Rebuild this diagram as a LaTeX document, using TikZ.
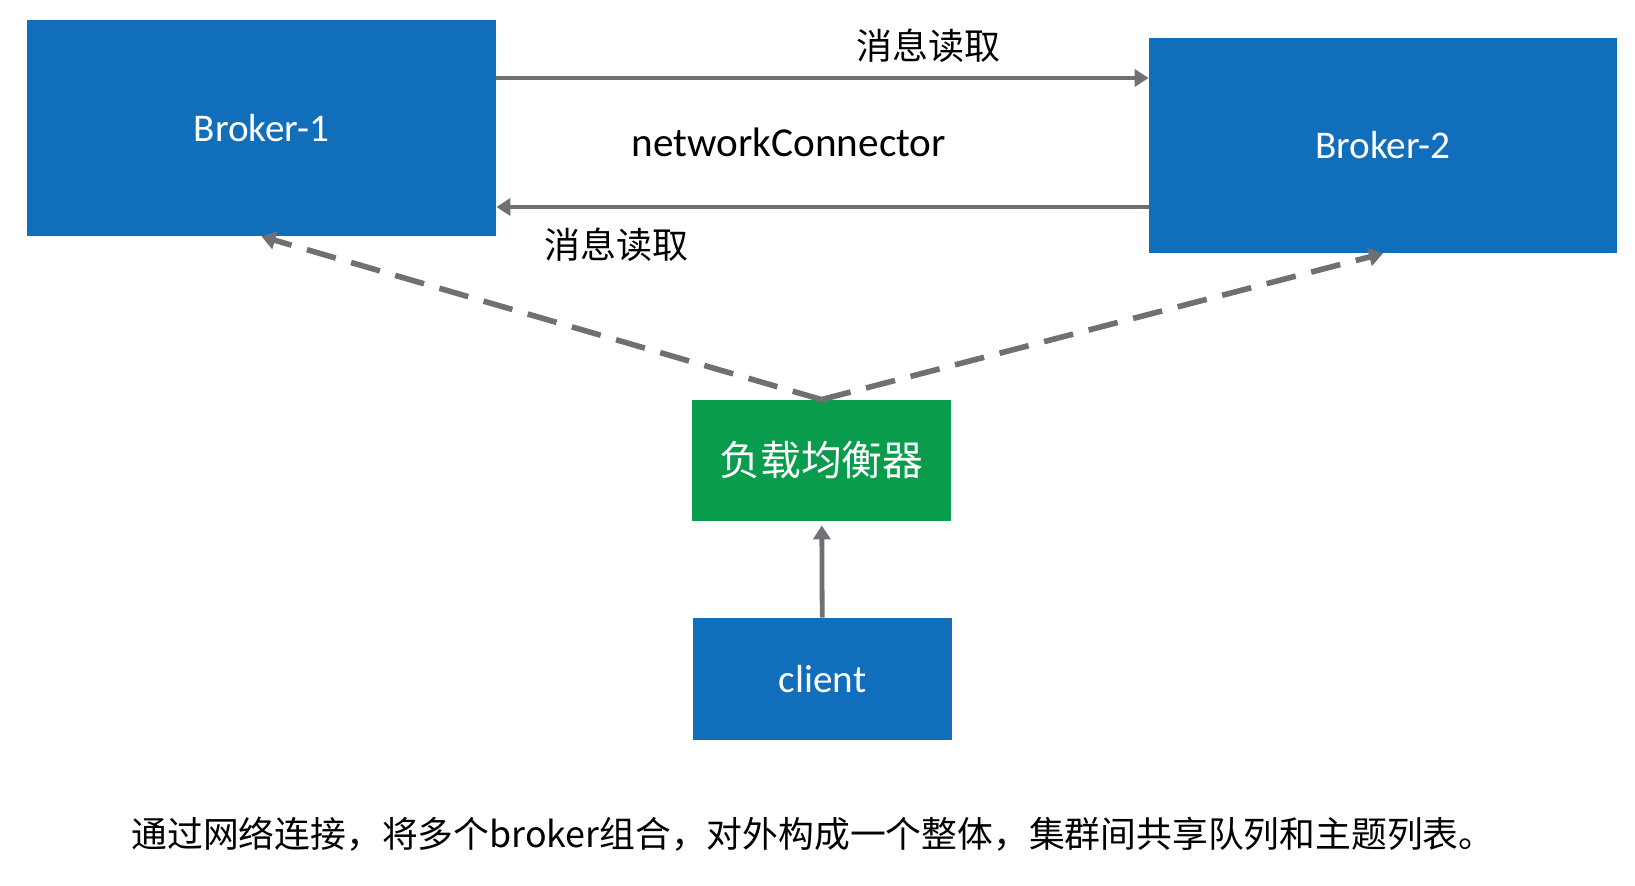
\documentclass[tikz,border=0pt]{standalone}
\usepackage{fontspec}
\setmainfont{Carlito}
\newfontfamily\cjk{Noto Sans CJK SC}
\usetikzlibrary{arrows.meta}

\definecolor{boxblue}{HTML}{106EBA}
\definecolor{boxgreen}{HTML}{089C4C}
\definecolor{linegray}{HTML}{6F6F74}

\begin{document}
\begin{tikzpicture}[x=0.5pt,y=-0.5pt,
    box/.style={fill=boxblue,text=white,inner sep=0pt,font=\fontsize{19.6}{22}\selectfont},
    flow/.style={linegray,line width=2.4pt,-{Triangle[length=7pt,width=8.5pt]}},
    route/.style={linegray,line width=2.8pt,dash pattern=on 15pt off 8pt,-{Triangle[length=7pt,width=9pt]}},
    cnlabel/.style={font=\cjk\fontsize{18}{21}\selectfont}]
  \useasboundingbox[fill=white] (0,0) rectangle (1635,885);
  \node[box,minimum width=234.5pt,minimum height=108pt] (B1) at (261.5,128) {Broker-1};
  \node[box,minimum width=234pt,minimum height=107.5pt] (B2) at (1383,145.5) {Broker-2};
  \node[box,fill=boxgreen,minimum width=129.5pt,minimum height=60.5pt,
    font=\cjk\fontsize{20.4}{24}\selectfont] (LB) at (821.5,460.5) {负载均衡器};
  \node[box,minimum width=129.5pt,minimum height=61pt] (C) at (822.5,679) {client};
  % labels between the brokers
  \node[cnlabel] (R1) at (928,46) {消息读取};
  \node[cnlabel] (R2) at (616,245) {消息读取};
  \node[font=\fontsize{20.6}{24}\selectfont] (NC) at (789,142) {networkConnector};
  \node[font=\cjk\fontsize{17.9}{21}\selectfont] (note) at (813,834)
    {通过网络连接，将多个broker组合，对外构成一个整体，集群间共享队列和主题列表。};
  \path[flow] (B1.east |- 0,78) edge (B2.west |- 0,78);
  \path[flow] (B2.west |- 0,207) edge (B1.east |- 0,207);
  \path[flow,shorten >=2pt] (C) edge (LB);
  \path[route] (LB.north) edge (B1.south) (LB.north) edge (B2.south);
\end{tikzpicture}
\end{document}
